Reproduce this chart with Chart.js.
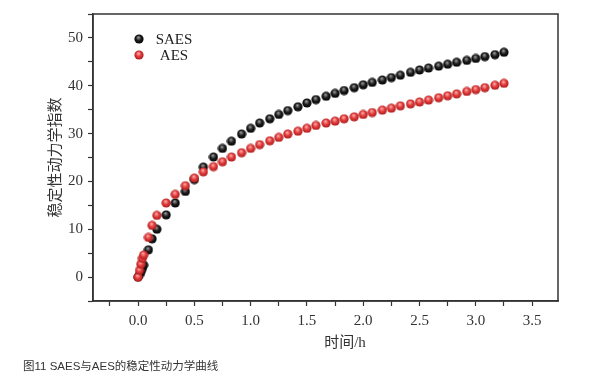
<!DOCTYPE html>
<html>
<head>
<meta charset="utf-8">
<script src="https://cdn.jsdelivr.net/npm/chart.js@4"></script>
<style>
html, body { margin: 0; padding: 0; background: #fff; }
#wrap { position: relative; width: 596px; height: 377px; }
#caption { position: absolute; left: 23px; top: 357px; font: 11.5px "Liberation Sans", "Noto Sans CJK SC", sans-serif; color: #333; white-space: nowrap; }
</style>
</head>
<body>
<div id="wrap">
  <canvas id="chart" width="596" height="377"></canvas>
  <div id="caption">图11 SAES与AES的稳定性动力学曲线</div>
</div>
<script>
// Time (h) of each reading
let timeH = [0, 0.013, 0.025, 0.038, 0.05, 0.092, 0.125, 0.167,
  0.25, 0.33, 0.42, 0.5, 0.58, 0.67, 0.75, 0.83, 0.92, 1.0, 1.08, 1.17, 1.25,
  1.33, 1.42, 1.5, 1.58, 1.67, 1.75, 1.83, 1.92, 2.0, 2.08, 2.17, 2.25, 2.33,
  2.42, 2.5, 2.58, 2.67, 2.75, 2.83, 2.92, 3.0, 3.08, 3.17, 3.25];

// Stability kinetics index
let saes = [0, 0.5, 1.1, 1.8, 2.5, 5.7, 8.0, 10.0,
  13.0, 15.5, 17.9, 20.4, 23.0, 25.1, 26.9, 28.4, 29.9, 31.1, 32.2, 33.1, 34.0,
  34.8, 35.6, 36.4, 37.1, 37.8, 38.4, 39.0, 39.6, 40.2, 40.7, 41.2, 41.7, 42.2,
  42.8, 43.3, 43.7, 44.1, 44.5, 44.9, 45.3, 45.7, 46.1, 46.5, 47.0];
let aes = [0, 1.4, 2.7, 3.9, 4.6, 8.3, 10.8, 12.9,
  15.5, 17.3, 19.1, 20.7, 22.0, 23.1, 24.1, 25.1, 26.0, 26.9, 27.7, 28.5, 29.2,
  29.9, 30.5, 31.1, 31.7, 32.2, 32.6, 33.1, 33.5, 34.0, 34.4, 34.9, 35.3, 35.8,
  36.2, 36.6, 37.0, 37.5, 37.9, 38.3, 38.8, 39.2, 39.6, 40.1, 40.5];

// Axis ticks
let xTicks = [-0.25, 0, 0.25, 0.5, 0.75, 1.0, 1.25, 1.5, 1.75, 2.0, 2.25, 2.5, 2.75, 3.0, 3.25, 3.5];
let xLabels = [0, 0.5, 1.0, 1.5, 2.0, 2.5, 3.0, 3.5];
let yTicks = [-5, 0, 5, 10, 15, 20, 25, 30, 35, 40, 45, 50, 55];
let yLabels = [0, 10, 20, 30, 40, 50];

let serif = '"Liberation Serif", "Noto Sans CJK SC", serif';
let ink = '#333';

// Shaded ball used as point marker
function makeBall(light, base, dark) {
  let c = document.createElement('canvas');
  c.width = c.height = 10;
  let g = c.getContext('2d');
  let grad = g.createRadialGradient(4.3, 3.2, 0.2, 5, 5, 5);
  grad.addColorStop(0, light);
  grad.addColorStop(0.5, base);
  grad.addColorStop(1, dark);
  g.fillStyle = grad;
  g.beginPath();
  g.arc(5, 5, 4.6, 0, Math.PI * 2);
  g.fill();
  return c;
}
let blackBall = makeBall('#a0a0a0', '#1c1c1c', '#000');
let redBall = makeBall('#ffb0b0', '#e23a3a', '#a51818');

// Frame, x title and in-plot legend
let extras = {
  id: 'extras',
  afterDraw(chart) {
    let ctx = chart.ctx;
    let a = chart.chartArea;
    ctx.save();
    ctx.strokeStyle = ink;
    ctx.lineWidth = 1.5;
    ctx.strokeRect(a.left, a.top, a.right - a.left, a.bottom - a.top);

    ctx.fillStyle = ink;
    ctx.textAlign = 'center';
    ctx.textBaseline = 'middle';
    ctx.font = '15px ' + serif;
    ctx.fillText('时间/h', 345, 343);

    ctx.fillStyle = '#222';
    ctx.drawImage(blackBall, 134, 34);
    ctx.drawImage(redBall, 134, 50);
    ctx.fillText('SAES', 174, 40);
    ctx.fillText('AES', 174, 56);
    ctx.restore();
  }
};

let points = vals => timeH.map((t, i) => ({x: t, y: vals[i]}));

new Chart(document.getElementById('chart'), {
  type: 'scatter',
  data: {
    datasets: [
      { label: 'SAES', data: points(saes), pointStyle: blackBall, pointRadius: 5, order: 2 },
      { label: 'AES', data: points(aes), pointStyle: redBall, pointRadius: 5, order: 1 },
    ],
  },
  options: {
    responsive: false,
    animation: false,
    layout: { padding: { left: 0, top: 12, right: 38, bottom: 0 } },
    plugins: {
      legend: { display: false },
      tooltip: { enabled: false },
    },
    scales: {
      x: {
        type: 'linear',
        min: -0.4,
        max: 3.73,
        afterBuildTicks: axis => { axis.ticks = xTicks.map(v => ({value: v})); },
        afterFit: axis => { axis.height = 76; },
        border: { display: true, color: ink, width: 1.5 },
        grid: { drawOnChartArea: false, drawTicks: true, tickLength: 5, tickColor: ink, tickWidth: 1.2 },
        ticks: {
          autoSkip: false,
          maxRotation: 0,
          padding: 6,
          color: ink,
          font: { family: serif, size: 15 },
          callback: v => xLabels.includes(v) ? v.toFixed(1) : '',
        },
      },
      y: {
        min: -5,
        max: 55,
        afterBuildTicks: axis => { axis.ticks = yTicks.map(v => ({value: v})); },
        afterFit: axis => { axis.width = 93; },
        border: { display: true, color: ink, width: 1.5 },
        grid: { drawOnChartArea: false, drawTicks: true, tickLength: 5, tickColor: ink, tickWidth: 1.2 },
        ticks: {
          autoSkip: false,
          padding: 5,
          color: ink,
          font: { family: serif, size: 15 },
          callback: v => yLabels.includes(v) ? String(v) : '',
        },
        title: {
          display: true,
          text: '稳定性动力学指数',
          color: ink,
          font: { family: '"Noto Sans CJK SC", sans-serif', size: 15 },
          padding: { top: 45, bottom: 0 },
        },
      },
    },
  },
  plugins: [extras],
});
</script>
</body>
</html>
